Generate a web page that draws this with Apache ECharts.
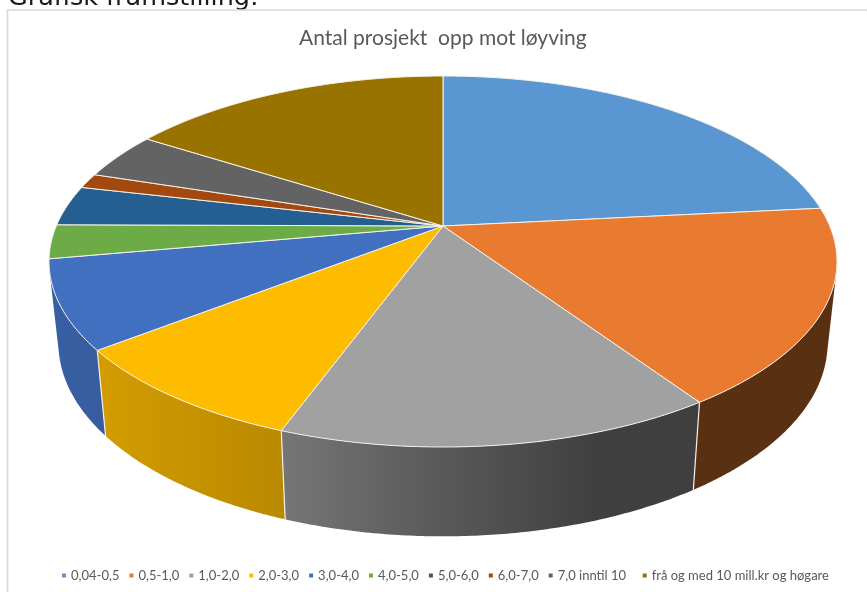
<!DOCTYPE html>
<html>
<head>
<meta charset="utf-8">
<style>html,body{margin:0;padding:0;background:#fff}#c{width:867px;height:592px}</style>
<script src="https://cdn.jsdelivr.net/npm/echarts@6/dist/echarts.min.js"></script>
</head>
<body>
<div id="c"></div>
<script>
const categories = ['0,04-0,5','0,5-1,0','1,0-2,0','2,0-3,0','3,0-4,0','4,0-5,0','5,0-6,0','6,0-7,0','7,0 inntil 10','frå og med 10 mill.kr og høgare'];
const shares = [23.4,17.2,15.0,8.9,7.7,2.95,3.5,1.3,4.1,16.0];
const colors = ['#5a97d2','#e87b2f','#a1a1a1','#fdbc00','#4270c0','#6cab45','#255e91','#a3480e','#636363','#997300'];

// perspective model of the tilted disc
const geo = {cx:443, cy:226, a:386.7, b:178.7, k:0.1914, sx:0.976, sy:1.04, oy:306.5};
const shadeStops = [[50,.85],[106,.83],[282,.73],[440,.55],[600,.39],[840,.39]];
const total = shares.reduce((s,v)=>s+v,0);

function rimPoint(t){
  const u=Math.sin(t), v=Math.cos(t), w=1+geo.k*v;
  return [geo.cx+geo.a*u/w, geo.cy-geo.b*v/w];
}
function lowPoint(p){
  return [geo.cx+geo.sx*(p[0]-geo.cx), geo.oy+geo.sy*(p[1]-geo.cy)];
}
function arcPoints(t0,t1){
  const n=Math.max(2,Math.ceil((t1-t0)/(Math.PI/360))), r=[];
  for(let i=0;i<=n;i++) r.push(rimPoint(t0+(t1-t0)*i/n));
  return r;
}
function shade(hex,f){
  const n=parseInt(hex.slice(1),16);
  return `rgb(${Math.round((n>>16&255)*f)},${Math.round((n>>8&255)*f)},${Math.round((n&255)*f)})`;
}
function sideFill(hex){
  const x0=shadeStops[0][0], x1=shadeStops[shadeStops.length-1][0];
  return {type:'linear',global:true,x:x0,y:0,x2:x1,y2:0,
    colorStops:shadeStops.map(s=>({offset:(s[0]-x0)/(x1-x0),color:shade(hex,s[1])}))};
}
function startAngle(i){
  let s=0; for(let j=0;j<i;j++) s+=shares[j];
  return s/total*2*Math.PI;
}
function signedArea(q){
  let s=0;
  q.forEach((p,i)=>{const n=q[(i+1)%q.length]; s+=p[0]*n[1]-n[0]*p[1];});
  return s;
}
function sideItem(i){
  return function(params,api){
    const t0=startAngle(i), t1=t0+api.value(0)/total*2*Math.PI;
    const a=arcPoints(t0,t1), children=[];
    // keep only the outward-facing run of the rim so the wall is a simple shape
    const front=[];
    for(let j=0;j<a.length-1;j++){
      if(signedArea([a[j],a[j+1],lowPoint(a[j+1]),lowPoint(a[j])])<0){
        if(!front.length) front.push(a[j]);
        front.push(a[j+1]);
      }
    }
    if(front.length){
      children.push({type:'polygon',shape:{points:front.concat(front.slice().reverse().map(lowPoint))},
        style:{fill:sideFill(colors[i])}});
    }
    if(Math.cos(t0)<-0.3){
      const p=rimPoint(t0), q=lowPoint(p);
      children.push({type:'line',z2:5,shape:{x1:p[0],y1:p[1],x2:q[0],y2:q[1]},style:{stroke:'#f4f0e6',lineWidth:1.2}});
    }
    return {type:'group',children};
  };
}
function topItem(i){
  return function(params,api){
    const t0=startAngle(i), t1=t0+api.value(0)/total*2*Math.PI;
    const pts=[[geo.cx,geo.cy]].concat(arcPoints(t0,t1));
    return {type:'polygon',shape:{points:pts},style:{fill:colors[i],stroke:'#f6f2e8',lineWidth:1,lineJoin:'round'}};
  };
}
const series=[];
categories.forEach((c,i)=>series.push({type:'custom',name:'side '+c,coordinateSystem:'none',z:2,silent:true,
  data:[[shares[i]]],renderItem:sideItem(i),itemStyle:{color:colors[i]}}));
categories.forEach((c,i)=>series.push({type:'custom',name:c,coordinateSystem:'none',z:3,silent:true,
  data:[[shares[i]]],renderItem:topItem(i),itemStyle:{color:colors[i]}}));

const chart=echarts.init(document.getElementById('c'),null,{renderer:'canvas'});
chart.setOption({
  animation:false,
  backgroundColor:'#fff',
  textStyle:{fontFamily:'Lato'},
  title:{text:'Antal prosjekt  opp mot løyving',left:294,top:23,
    textStyle:{fontFamily:'Lato',fontSize:21,fontWeight:'normal',color:'#595959'}},
  legend:{data:categories,left:62,top:569,padding:0,icon:'rect',itemWidth:4,itemHeight:4,itemGap:10,selectedMode:false,
    formatter:n=>n===categories[8]?n+'  ':n,
    textStyle:{fontFamily:'Lato',fontSize:13,color:'#595959'}},
  graphic:[
    {type:'text',left:8,top:-15,z:1,style:{text:'Grafisk framstilling:',font:'25.5px "DejaVu Sans"',fill:'#1a1a1a'}},
    {type:'polyline',z:1,shape:{points:[[7.5,600],[7.5,10],[870,10]]},style:{fill:null,stroke:'#d9d9d9',lineWidth:1.6}}
  ],
  series
});
</script>
</body>
</html>
